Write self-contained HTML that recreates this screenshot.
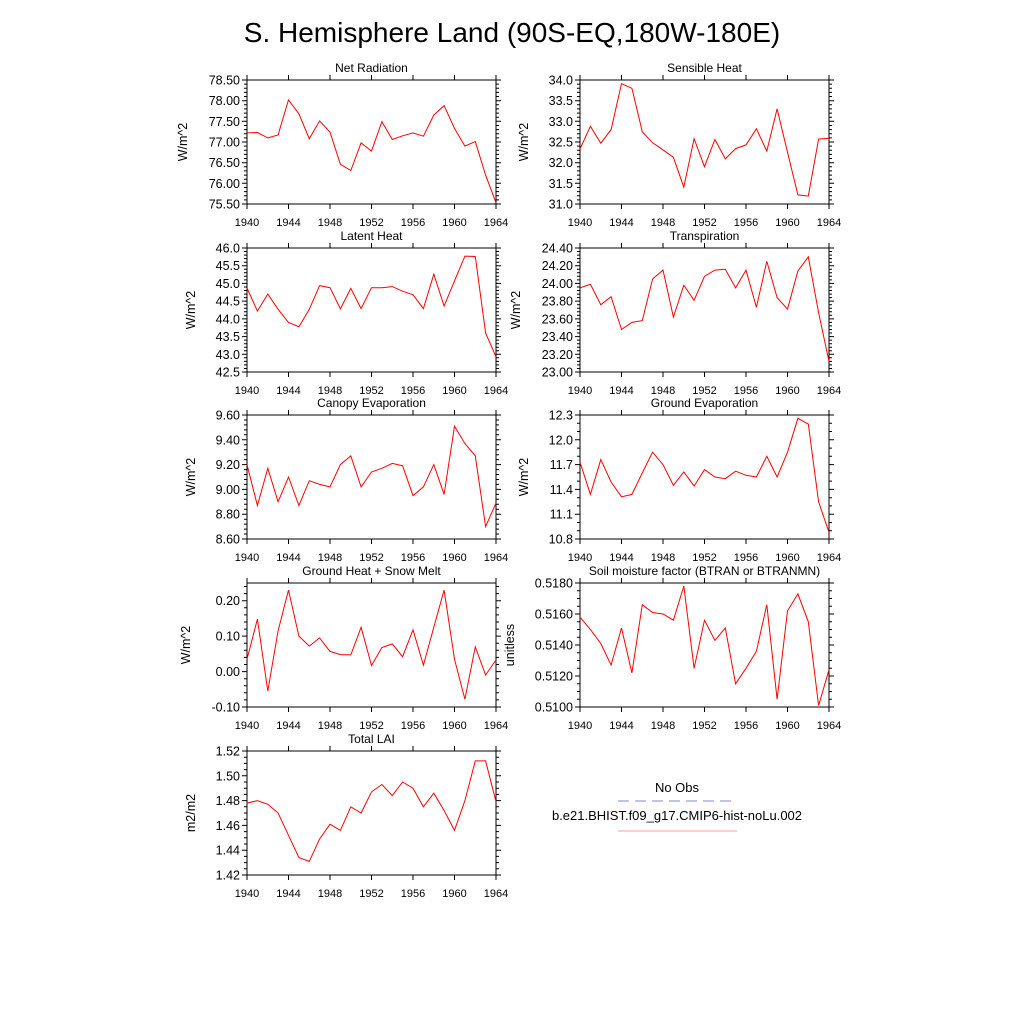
<!DOCTYPE html>
<html><head><meta charset="utf-8"><style>
body{margin:0;background:#fff}
svg{display:block;font-family:"Liberation Sans",sans-serif}
</style></head><body>
<svg id="chart" width="1024" height="1024" viewBox="0 0 1024 1024" xmlns="http://www.w3.org/2000/svg">
<rect width="1024" height="1024" fill="#fff"/>
<text x="512" y="42" text-anchor="middle" font-size="28">S. Hemisphere Land (90S-EQ,180W-180E)</text>
<g>
<text x="677" y="792" text-anchor="middle" font-size="13">No Obs</text>
<line x1="618" y1="801" x2="737" y2="801" stroke="#7a86ee" stroke-width="1" stroke-dasharray="11,6"/>
<text x="677" y="820" text-anchor="middle" font-size="13">b.e21.BHIST.f09_g17.CMIP6-hist-noLu.002</text>
<line x1="618" y1="831" x2="737" y2="831" stroke="#f9a0a0" stroke-width="1"/>
</g>
</svg>
<script>
const years = [1940,1941,1942,1943,1944,1945,1946,1947,1948,1949,1950,1951,1952,1953,1954,1955,1956,1957,1958,1959,1960,1961,1962,1963,1964];
const xTicks = [1940,1944,1948,1952,1956,1960,1964];
const netRad = [77.22,77.23,77.10,77.17,78.02,77.68,77.08,77.51,77.24,76.46,76.31,76.98,76.78,77.49,77.06,77.15,77.22,77.14,77.65,77.88,77.33,76.90,77.01,76.20,75.53];
const sensible = [32.33,32.88,32.47,32.80,33.91,33.80,32.75,32.48,32.31,32.13,31.41,32.58,31.90,32.56,32.09,32.34,32.43,32.82,32.28,33.30,32.25,31.22,31.19,32.57,32.59];
const latent = [44.87,44.22,44.70,44.27,43.90,43.78,44.27,44.94,44.88,44.28,44.86,44.29,44.88,44.88,44.91,44.78,44.68,44.29,45.26,44.36,45.07,45.77,45.76,43.60,42.93];
const transp = [23.95,23.99,23.76,23.85,23.48,23.56,23.58,24.05,24.15,23.62,23.98,23.81,24.08,24.15,24.16,23.95,24.15,23.73,24.25,23.84,23.71,24.14,24.30,23.67,23.12];
const canopy = [9.20,8.87,9.17,8.90,9.10,8.87,9.07,9.04,9.02,9.20,9.27,9.02,9.14,9.17,9.21,9.19,8.95,9.02,9.20,8.96,9.51,9.37,9.27,8.70,8.89];
const groundEvap = [11.73,11.34,11.76,11.49,11.31,11.34,11.60,11.85,11.70,11.45,11.61,11.44,11.64,11.55,11.53,11.62,11.57,11.55,11.80,11.55,11.85,12.26,12.19,11.25,10.88];
const groundHeat = [0.035,0.148,-0.055,0.115,0.230,0.100,0.072,0.095,0.057,0.048,0.047,0.125,0.017,0.068,0.078,0.042,0.118,0.018,0.125,0.230,0.035,-0.078,0.070,-0.010,0.033];
const soil = [0.5158,0.5150,0.5141,0.5127,0.5151,0.5122,0.5166,0.5161,0.5160,0.5156,0.5178,0.5125,0.5156,0.5143,0.5151,0.5115,0.5125,0.5136,0.5166,0.5105,0.5162,0.5173,0.5155,0.5101,0.5124];
const lai = [1.478,1.480,1.477,1.470,1.452,1.434,1.431,1.449,1.461,1.456,1.475,1.470,1.487,1.493,1.484,1.495,1.490,1.475,1.486,1.472,1.456,1.480,1.512,1.512,1.479];
const netRadTicks = ["75.50","76.00","76.50","77.00","77.50","78.00","78.50"];
const sensibleTicks = ["31.0","31.5","32.0","32.5","33.0","33.5","34.0"];
const latentTicks = ["42.5","43.0","43.5","44.0","44.5","45.0","45.5","46.0"];
const transpTicks = ["23.00","23.20","23.40","23.60","23.80","24.00","24.20","24.40"];
const canopyTicks = ["8.60","8.80","9.00","9.20","9.40","9.60"];
const groundEvapTicks = ["10.8","11.1","11.4","11.7","12.0","12.3"];
const groundHeatTicks = ["-0.10","0.00","0.10","0.20"];
const soilTicks = ["0.5100","0.5120","0.5140","0.5160","0.5180"];
const laiTicks = ["1.42","1.44","1.46","1.48","1.50","1.52"];

const panels = [
 {name:"net-radiation",title:"Net Radiation",data:netRad,ticks:netRadTicks,min:75.5,max:78.5,sub:5,x:247,y:80,yl:"W/m^2",ylx:187},
 {name:"sensible-heat",title:"Sensible Heat",data:sensible,ticks:sensibleTicks,min:31,max:34,sub:5,x:580,y:80,yl:"W/m^2",ylx:528},
 {name:"latent-heat",title:"Latent Heat",data:latent,ticks:latentTicks,min:42.5,max:46,sub:5,x:247,y:248,yl:"W/m^2",ylx:195},
 {name:"transpiration",title:"Transpiration",data:transp,ticks:transpTicks,min:23,max:24.4,sub:5,x:580,y:248,yl:"W/m^2",ylx:520},
 {name:"canopy-evaporation",title:"Canopy Evaporation",data:canopy,ticks:canopyTicks,min:8.6,max:9.6,sub:5,x:247,y:415,yl:"W/m^2",ylx:195},
 {name:"ground-evaporation",title:"Ground Evaporation",data:groundEvap,ticks:groundEvapTicks,min:10.8,max:12.3,sub:3,x:580,y:415,yl:"W/m^2",ylx:528},
 {name:"ground-heat-snow-melt",title:"Ground Heat + Snow Melt",data:groundHeat,ticks:groundHeatTicks,min:-0.1,max:0.25,sub:5,x:247,y:583,yl:"W/m^2",ylx:190,t0:-0.1,dt:0.1},
 {name:"soil-moisture-factor",title:"Soil moisture factor (BTRAN or BTRANMN)",data:soil,ticks:soilTicks,min:0.51,max:0.518,sub:4,x:580,y:583,yl:"unitless",ylx:514},
 {name:"total-lai",title:"Total LAI",data:lai,ticks:laiTicks,min:1.42,max:1.52,sub:4,x:247,y:751,yl:"m2/m2",ylx:195}
];
const W=249,H=124,NS="http://www.w3.org/2000/svg";
const svg=document.getElementById("chart");
function mk(tag,attrs,parent){const e=document.createElementNS(NS,tag);for(const k in attrs)e.setAttribute(k,attrs[k]);parent.appendChild(e);return e;}
panels.forEach(p=>{
 const g=mk("g",{},svg);
 
 
 const xs=v=>p.x+(v-1940)/24*W;
 const ys=v=>p.y+H-(v-p.min)/(p.max-p.min)*H;
 // ticks
 const tk=mk("path",{stroke:"#000","stroke-width":1,fill:"none"},g);
 
 
 let d="";
 const vals=p.ticks.map(Number);
 const step=vals[1]-vals[0];
 const mstep=step/p.sub;
 const startMinor=vals[0]-Math.floor((vals[0]-p.min)/mstep+1e-6)*mstep;
 for(let v=startMinor;v<=p.max+1e-9;v+=mstep){const y=ys(v).toFixed(1);d+=`M${p.x} ${y}h-3M${p.x+W} ${y}h3`;}
 vals.forEach(v=>{const y=ys(v).toFixed(1);d+=`M${p.x} ${y}h-5M${p.x+W} ${y}h5`;});
 xTicks.forEach(v=>{const x=xs(v).toFixed(1);d+=`M${x} ${p.y+H}v5M${x} ${p.y}v-5`;});
 tk.setAttribute("d",d);
 // box
 const b=mk("rect",{x:p.x,y:p.y,width:W,height:H,fill:"none",stroke:"#000","stroke-width":1},g);
 
 
 // labels
 p.ticks.forEach((t,i)=>{const e=mk("text",{x:p.x-7,y:ys(vals[i])+4.5,"text-anchor":"end","font-size":12.5},g);e.textContent=t;
  
  });
 xTicks.forEach(v=>{const e=mk("text",{x:xs(v),y:p.y+H+22,"text-anchor":"middle","font-size":11},g);e.textContent=v;
  
  });
 const t=mk("text",{x:p.x+W/2,y:p.y-8,"text-anchor":"middle","font-size":12},g);t.textContent=p.title;
 
 
 const cy=p.y+H/2;
 const yl=mk("text",{x:p.ylx,y:cy,"text-anchor":"middle","font-size":12.5,transform:`rotate(-90 ${p.ylx} ${cy})`},g);yl.textContent=p.yl;
 
 
 // line
 const pts=p.data.map((v,i)=>xs(years[i]).toFixed(1)+","+ys(v).toFixed(1)).join(" ");
 const ln=mk("polyline",{points:pts,fill:"none",stroke:"#ff0000","stroke-width":1},g);
 
 
});
</script>
</body></html>
